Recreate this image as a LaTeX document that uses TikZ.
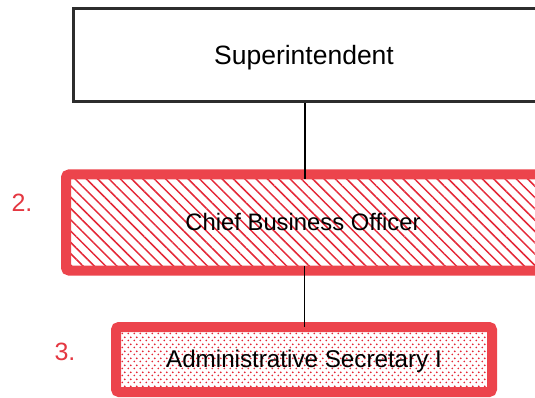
\documentclass[tikz,border=0pt]{standalone}
\usepackage{fontspec}
\setmainfont{Liberation Sans}
\usetikzlibrary{patterns,patterns.meta}
\definecolor{brd}{RGB}{236,68,76}
\definecolor{hat}{RGB}{228,40,55}
\definecolor{numred}{RGB}{228,55,65}
\definecolor{supline}{RGB}{45,45,45}
\pgfdeclarepattern{name=mydots, type=uncolored,
  bottom left={\pgfpoint{0pt}{0pt}}, top right={\pgfpoint{5.5pt}{7pt}},
  tile size={\pgfpoint{5.5pt}{7pt}},
  code={\pgfpathcircle{\pgfpoint{1.375pt}{1.75pt}}{1.05pt}
        \pgfpathcircle{\pgfpoint{4.125pt}{5.25pt}}{1.05pt}\pgfusepath{fill}}}
\tikzset{
  supbox/.style={draw=supline, line width=3pt, fill=white, inner sep=0pt,
    minimum width=471.5pt, minimum height=93pt, text height=20pt, text depth=0pt,
    font=\fontsize{26.5}{30}\selectfont},
  redbox/.style={draw=brd, line width=10pt, rounded corners=3pt, inner sep=0pt,
    text height=15pt, text depth=0pt},
  hatchbox/.style={redbox, pattern={Lines[angle=-45,distance=8pt,line width=1.5pt]}, pattern color=hat,
    minimum width=474pt, minimum height=96pt, font=\fontsize{23.8}{28}\selectfont},
  dotbox/.style={redbox, pattern=mydots, pattern color=hat,
    minimum width=376pt, minimum height=65pt, font=\fontsize{24.2}{28}\selectfont},
  num/.style={text=numred, font=\fontsize{25}{30}\selectfont, inner sep=0pt},
  conn/.style={draw=black, line width=1.3pt}
}
\begin{document}
\begin{tikzpicture}[x=1pt,y=-1pt]
\useasboundingbox (0,0) rectangle (535,398);
\clip (0,0) rectangle (535,398);
\node[supbox] (sup) at (309.25,55) {Superintendent\hspace*{10.5pt}};
\node[hatchbox] (cbo) at (303,222.5) {Chief Business Officer};
\node[dotbox] (asec) at (304,359.5) {Administrative Secretary I};
\node[num] (n2) at (22,203) {2.};
\node[num] (n3) at (65,352) {3.};
\draw[conn] (sup.south -| 305,0) -- ([yshift=-5pt]cbo.north -| 305,0);
\draw[conn, line width=1pt] ([yshift=5pt]cbo.south -| 304,0) -- ([yshift=-5pt]asec.north -| 304,0);
\end{tikzpicture}
\end{document}
